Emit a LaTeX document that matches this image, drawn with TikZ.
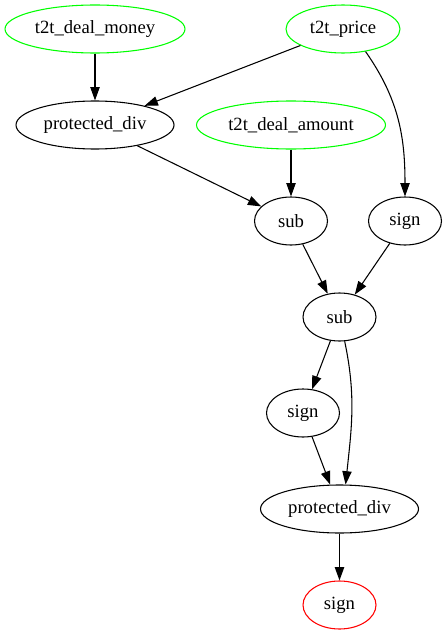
\documentclass[tikz,border=0pt]{standalone}
\usepackage{fontspec}
\setmainfont{Liberation Serif}
\usetikzlibrary{shapes.geometric,arrows.meta}
\definecolor{srcgreen}{RGB}{0,255,0}
\begin{document}
\begin{tikzpicture}[x=0.75pt, y=0.75pt,
  op/.style={ellipse, draw=black, line width=0.8pt, inner sep=0pt, minimum height=36pt,
    font=\fontsize{14}{16}\selectfont},
  src/.style={op, draw=srcgreen},
  result/.style={op, draw=red},
  link/.style={-{Triangle[length=10pt,width=7pt]}, line width=0.8pt}]
\useasboundingbox (0,0) rectangle (446,-635);
% inputs
\node [src, minimum width=135pt] (money) at (95,-29) {t2t\_deal\_money};
\node [src, minimum width=85.5pt] (price) at (343,-29) {t2t\_price};
\node [src, minimum width=141.75pt] (amount) at (291,-125) {t2t\_deal\_amount};
% operators
\node [op, minimum width=118.5pt] (pdiv1) at (95,-125) {protected\_div};
\node [op, minimum width=54.75pt] (sub1) at (291,-221) {sub};
\node [op, minimum width=54.75pt] (sign1) at (405,-221) {sign};
\node [op, minimum width=54.75pt] (sub2) at (339.5,-317) {sub};
\node [op, minimum width=54.75pt] (sign2) at (303,-413) {sign};
\node [op, minimum width=118.5pt] (pdiv2) at (339.5,-509) {protected\_div};
\node [result, minimum width=54.75pt] (final) at (339.5,-605) {sign};
% edges
\draw [link] (money) -- (pdiv1);
\draw [link] (price) -- (pdiv1);
\draw [link] (price.-45) to[out=-55, in=90] (sign1);
\draw [link] (pdiv1) -- (sub1);
\draw [link] (amount) -- (sub1);
\draw [link] (sub1) -- (sub2);
\draw [link] (sign1) -- (sub2);
\draw [link] (sub2) -- (sign2);
\draw [link] (sub2.-78) to[out=-78, in=84] (pdiv2.76);
\draw [link] (sign2) -- (pdiv2);
\draw [link] (pdiv2) -- (final);
\end{tikzpicture}
\end{document}
